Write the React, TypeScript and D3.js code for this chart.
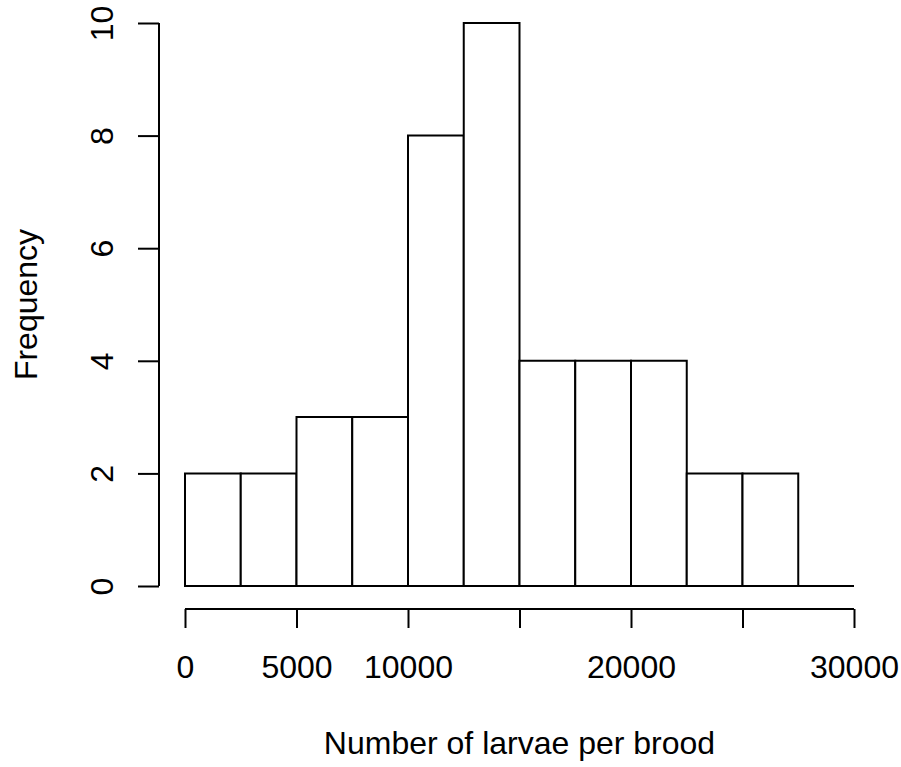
import React, { useEffect, useRef } from 'react';
import * as d3 from 'd3';

// histogram bins (lower edges) and counts
const binStarts = [0, 2500, 5000, 7500, 10000, 12500, 15000, 17500, 20000, 22500, 25000, 27500];
const binWidth = 2500;
const counts = [2, 2, 3, 3, 8, 10, 4, 4, 4, 2, 2, 0];
const xTicks = [0, 5000, 10000, 15000, 20000, 25000, 30000];
const xTickLabels = ['0', '5000', '10000', '', '20000', '', '30000'];
const yTicks = [0, 2, 4, 6, 8, 10];
const xTitle = 'Number of larvae per brood';
const yTitle = 'Frequency';

const App = () => {
  const svgRef = useRef<SVGSVGElement>(null);

  useEffect(() => {
    const width = 901;
    const height = 767;
    const font = '"Liberation Sans", Arial, sans-serif';
    const fs = 32;

    const svg = d3.select(svgRef.current);
    svg.selectAll('*').remove();
    svg.attr('width', width).attr('height', height);

    const x = d3.scaleLinear().domain([0, 30000]).range([185, 854]);
    const y = d3.scaleLinear().domain([0, 10]).range([586, 23]);

    // bars as closed paths so empty bins still show their base line
    svg.append('g')
      .selectAll('path')
      .data(binStarts)
      .enter().append('path')
      .attr('d', (d, i) => {
        const x0 = x(d), x1 = x(d + binWidth), y0 = y(0), y1 = y(counts[i]);
        return `M${x0},${y0}V${y1}H${x1}V${y0}Z`;
      })
      .attr('fill', '#fff')
      .attr('stroke', '#000')
      .attr('stroke-width', 2);

    // x axis
    const xAxis = svg.append('g')
      .attr('transform', 'translate(0,609)')
      .call(d3.axisBottom(x).tickValues(xTicks).tickSize(19).tickFormat((d, i) => xTickLabels[i]));
    xAxis.select('.domain').attr('d', `M${x(0)},0H${x(30000)}`);
    xAxis.selectAll('line, path').attr('stroke', '#000').attr('stroke-width', 2);
    xAxis.selectAll('text')
      .attr('y', 0)
      .attr('dy', 0)
      .attr('transform', 'translate(0,69)')
      .style('font-family', font)
      .style('font-size', fs + 'px')
      .attr('fill', '#000');

    // y axis
    const yAxis = svg.append('g')
      .attr('transform', 'translate(159,0)')
      .call(d3.axisLeft(y).tickValues(yTicks).tickSize(21).tickFormat(d3.format('d')));
    yAxis.select('.domain').attr('d', `M0,${y(0)}V${y(10)}`);
    yAxis.selectAll('line, path').attr('stroke', '#000').attr('stroke-width', 2);
    yAxis.selectAll('text')
      .attr('x', 0)
      .attr('dy', 0)
      .attr('text-anchor', 'middle')
      .attr('transform', 'translate(-46,0) rotate(-90)')
      .style('font-family', font)
      .style('font-size', fs + 'px')
      .attr('fill', '#000');

    // titles
    svg.append('text')
      .attr('x', (x(0) + x(30000)) / 2)
      .attr('y', 754)
      .attr('text-anchor', 'middle')
      .style('font-family', font)
      .style('font-size', fs + 'px')
      .text(xTitle);

    svg.append('text')
      .attr('transform', `translate(37,${(y(0) + y(10)) / 2}) rotate(-90)`)
      .attr('text-anchor', 'middle')
      .style('font-family', font)
      .style('font-size', fs + 'px')
      .text(yTitle);
  }, []);

  return (
    <svg ref={svgRef} style={{ position: 'absolute', left: 0, top: 0, background: '#fff' }}></svg>
  );
};

export default App;
